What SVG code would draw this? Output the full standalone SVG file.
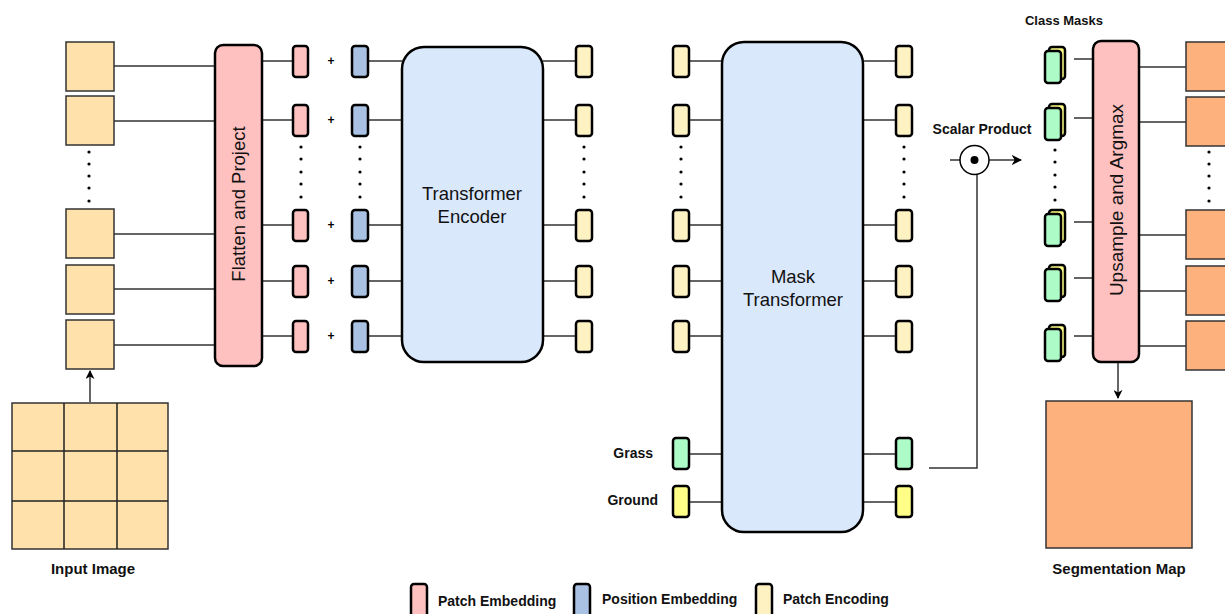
<svg xmlns="http://www.w3.org/2000/svg" width="1225" height="614" viewBox="0 0 1225 614">
<defs>
<marker id="arr" viewBox="0 0 10 10" refX="9" refY="5" markerWidth="7" markerHeight="7" orient="auto"><path d="M0,0 L10,5 L0,10 L3,5 Z" fill="#000"/></marker>
<marker id="arr2" viewBox="0 0 10 10" refX="9" refY="5" markerWidth="6" markerHeight="6" orient="auto"><path d="M0,0 L10,5 L0,10 L3,5 Z" fill="#000"/></marker>
<style>
.ln{stroke:#333;stroke-width:1.5;fill:none}
.big{stroke:#000;stroke-width:2.5}
.tok{stroke:#000;stroke-width:2.5}
.pe{fill:#ffc0c0}
.pos{fill:#a9c1e2}
.enc{fill:#fff2c2}
.patch{fill:#ffe1ab;stroke:#333;stroke-width:1.5}
.org{fill:#fdb27d;stroke:#333;stroke-width:1.5}
.t{font-family:"Liberation Sans",Arial,sans-serif;fill:#111}
.b{font-family:"Liberation Sans",Arial,sans-serif;font-weight:bold;fill:#111}
.dot{fill:#000}
</style>
</defs>
<rect width="1225" height="614" fill="#fff"/>

<g id="connectors">
<path class="ln" d="M114,66H215M114,121H215M114,234H215M114,289H215M114,345H215"/>
<path class="ln" d="M262,61H293M262,120H293M262,225H293M262,281H293M262,336H293"/>
<path class="ln" d="M368,61H402M368,120H402M368,225H402M368,281H402M368,336H402"/>
<path class="ln" d="M543,61H576M543,120H576M543,225H576M543,281H576M543,336H576"/>
<path class="ln" d="M689,61H722M689,120H722M689,225H722M689,281H722M689,336H722M689,454H722M689,502H722"/>
<path class="ln" d="M863,61H896M863,120H896M863,225H896M863,281H896M863,336H896M863,454H896M863,502H896"/>
<path class="ln" d="M929,468H977V174"/>
<path class="ln" d="M950,160H960"/>
<path class="ln" d="M989,160H1021" marker-end="url(#arr)"/>
<path class="ln" d="M1074,59H1093M1074,118H1093M1074,222H1093M1074,278H1093M1074,336H1093"/>
<path class="ln" d="M1139,67H1186M1139,122H1186M1139,235H1186M1139,291H1186M1139,346H1186"/>
<path class="ln" d="M90,402V371" marker-end="url(#arr2)" stroke-width="2"/>
<path class="ln" d="M1118,362V398" marker-end="url(#arr2)" stroke-width="2"/>
</g>

<g id="input-image">
<rect x="12" y="403" width="156" height="146" fill="#ffe1ab" stroke="#333" stroke-width="1.5"/>
<path d="M64,403V549M117,403V549M12,451H168M12,501H168" stroke="#222" stroke-width="1.5"/>
<text class="b" x="93" y="574" font-size="15" text-anchor="middle">Input Image</text>
</g>

<g id="patches">
<rect class="patch" x="66" y="42" width="48" height="49"/>
<rect class="patch" x="66" y="96" width="48" height="49"/>
<rect class="patch" x="66" y="209" width="48" height="49"/>
<rect class="patch" x="66" y="265" width="48" height="49"/>
<rect class="patch" x="66" y="320" width="48" height="49"/>
<g class="dot"><circle cx="89" cy="152" r="1.6"/><circle cx="89" cy="164" r="1.6"/><circle cx="89" cy="176" r="1.6"/><circle cx="89" cy="188" r="1.6"/><circle cx="89" cy="201" r="1.6"/></g>
</g>

<g id="flatten">
<rect class="big pe" x="215" y="45" width="47" height="321" rx="8"/>
<text class="t" x="0" y="0" font-size="18.5" text-anchor="middle" transform="translate(245,204) rotate(-90)">Flatten and Project</text>
</g>

<g id="patch-embeddings">
<rect class="tok pe" x="293" y="46" width="15" height="31" rx="3"/>
<rect class="tok pe" x="293" y="105" width="15" height="31" rx="3"/>
<rect class="tok pe" x="293" y="210" width="15" height="31" rx="3"/>
<rect class="tok pe" x="293" y="266" width="15" height="31" rx="3"/>
<rect class="tok pe" x="293" y="321" width="15" height="31" rx="3"/>
<g class="dot"><circle cx="301" cy="147" r="1.6"/><circle cx="301" cy="159" r="1.6"/><circle cx="301" cy="172" r="1.6"/><circle cx="301" cy="184" r="1.6"/><circle cx="301" cy="197" r="1.6"/></g>
</g>

<g id="plus" class="b" font-size="12" text-anchor="middle" style="fill:#000">
<text x="331" y="65">+</text><text x="331" y="124">+</text><text x="331" y="229">+</text><text x="331" y="285">+</text><text x="331" y="340">+</text>
</g>

<g id="position-embeddings">
<rect class="tok pos" x="352" y="46" width="16" height="31" rx="3"/>
<rect class="tok pos" x="352" y="105" width="16" height="31" rx="3"/>
<rect class="tok pos" x="352" y="210" width="16" height="31" rx="3"/>
<rect class="tok pos" x="352" y="266" width="16" height="31" rx="3"/>
<rect class="tok pos" x="352" y="321" width="16" height="31" rx="3"/>
<g class="dot"><circle cx="360" cy="147" r="1.6"/><circle cx="360" cy="159" r="1.6"/><circle cx="360" cy="172" r="1.6"/><circle cx="360" cy="184" r="1.6"/><circle cx="360" cy="197" r="1.6"/></g>
</g>

<g id="transformer-encoder">
<rect class="big" fill="#dae8fc" x="402" y="47" width="141" height="315" rx="22"/>
<text class="t" x="472" y="200" font-size="18.5" text-anchor="middle">Transformer</text>
<text class="t" x="472" y="223" font-size="18.5" text-anchor="middle">Encoder</text>
</g>

<g id="encoder-outputs">
<rect class="tok enc" x="576" y="46" width="16" height="31" rx="3"/>
<rect class="tok enc" x="576" y="105" width="16" height="31" rx="3"/>
<rect class="tok enc" x="576" y="210" width="16" height="31" rx="3"/>
<rect class="tok enc" x="576" y="266" width="16" height="31" rx="3"/>
<rect class="tok enc" x="576" y="321" width="16" height="31" rx="3"/>
<g class="dot"><circle cx="584" cy="147" r="1.6"/><circle cx="584" cy="159" r="1.6"/><circle cx="584" cy="172" r="1.6"/><circle cx="584" cy="184" r="1.6"/><circle cx="584" cy="197" r="1.6"/></g>
</g>

<g id="mask-inputs">
<rect class="tok enc" x="673" y="46" width="16" height="31" rx="3"/>
<rect class="tok enc" x="673" y="105" width="16" height="31" rx="3"/>
<rect class="tok enc" x="673" y="210" width="16" height="31" rx="3"/>
<rect class="tok enc" x="673" y="266" width="16" height="31" rx="3"/>
<rect class="tok enc" x="673" y="321" width="16" height="31" rx="3"/>
<g class="dot"><circle cx="681" cy="147" r="1.6"/><circle cx="681" cy="159" r="1.6"/><circle cx="681" cy="172" r="1.6"/><circle cx="681" cy="184" r="1.6"/><circle cx="681" cy="197" r="1.6"/></g>
<rect class="tok" fill="#adfcc8" x="673" y="438" width="16" height="31" rx="3"/>
<rect class="tok" fill="#ffff88" x="673" y="486" width="16" height="31" rx="3"/>
<text class="b" x="653" y="458" font-size="14" text-anchor="end">Grass</text>
<text class="b" x="658" y="505" font-size="14" text-anchor="end">Ground</text>
</g>

<g id="mask-transformer">
<rect class="big" fill="#dae8fc" x="722" y="42" width="141" height="490" rx="22"/>
<text class="t" x="793" y="283" font-size="18.5" text-anchor="middle">Mask</text>
<text class="t" x="793" y="306" font-size="18.5" text-anchor="middle">Transformer</text>
</g>

<g id="mask-outputs">
<rect class="tok enc" x="896" y="46" width="16" height="31" rx="3"/>
<rect class="tok enc" x="896" y="105" width="16" height="31" rx="3"/>
<rect class="tok enc" x="896" y="210" width="16" height="31" rx="3"/>
<rect class="tok enc" x="896" y="266" width="16" height="31" rx="3"/>
<rect class="tok enc" x="896" y="321" width="16" height="31" rx="3"/>
<g class="dot"><circle cx="904" cy="147" r="1.6"/><circle cx="904" cy="159" r="1.6"/><circle cx="904" cy="172" r="1.6"/><circle cx="904" cy="184" r="1.6"/><circle cx="904" cy="197" r="1.6"/></g>
<rect class="tok" fill="#adfcc8" x="896" y="438" width="16" height="31" rx="3"/>
<rect class="tok" fill="#ffff88" x="896" y="486" width="16" height="31" rx="3"/>
</g>

<g id="scalar-product">
<circle cx="974.5" cy="160" r="14.5" fill="#fff" stroke="#000" stroke-width="1.5"/>
<circle cx="974.5" cy="160" r="4" fill="#000"/>
<text class="b" x="982" y="134" font-size="14" text-anchor="middle">Scalar Product</text>
</g>

<g id="class-masks">
<text class="b" x="1064" y="25" font-size="13" text-anchor="middle">Class Masks</text>
<g>
<rect class="tok" fill="#ffff88" x="1049" y="47" width="16" height="32" rx="3" stroke-width="2"/>
<rect class="tok" fill="#adfcc8" x="1045" y="51" width="16" height="32" rx="3"/>
<rect class="tok" fill="#ffff88" x="1049" y="104" width="16" height="32" rx="3" stroke-width="2"/>
<rect class="tok" fill="#adfcc8" x="1045" y="108" width="16" height="32" rx="3"/>
<rect class="tok" fill="#ffff88" x="1049" y="210" width="16" height="32" rx="3" stroke-width="2"/>
<rect class="tok" fill="#adfcc8" x="1045" y="214" width="16" height="32" rx="3"/>
<rect class="tok" fill="#ffff88" x="1049" y="265" width="16" height="32" rx="3" stroke-width="2"/>
<rect class="tok" fill="#adfcc8" x="1045" y="269" width="16" height="32" rx="3"/>
<rect class="tok" fill="#ffff88" x="1049" y="325" width="16" height="32" rx="3" stroke-width="2"/>
<rect class="tok" fill="#adfcc8" x="1045" y="329" width="16" height="32" rx="3"/>
</g>
<g class="dot"><circle cx="1055" cy="150" r="1.6"/><circle cx="1055" cy="162" r="1.6"/><circle cx="1055" cy="175" r="1.6"/><circle cx="1055" cy="187" r="1.6"/><circle cx="1055" cy="200" r="1.6"/></g>
</g>

<g id="upsample">
<rect class="big pe" x="1093" y="41" width="46" height="321" rx="8"/>
<text class="t" x="0" y="0" font-size="19" text-anchor="middle" transform="translate(1123,200) rotate(-90)">Upsample and Argmax</text>
</g>

<g id="output-patches">
<rect class="org" x="1186" y="42" width="48" height="49"/>
<rect class="org" x="1186" y="97" width="48" height="49"/>
<rect class="org" x="1186" y="210" width="48" height="49"/>
<rect class="org" x="1186" y="266" width="48" height="49"/>
<rect class="org" x="1186" y="321" width="48" height="49"/>
<g class="dot"><circle cx="1209" cy="152" r="1.6"/><circle cx="1209" cy="164" r="1.6"/><circle cx="1209" cy="176" r="1.6"/><circle cx="1209" cy="188" r="1.6"/><circle cx="1209" cy="201" r="1.6"/></g>
</g>

<g id="segmentation-map">
<rect class="org" x="1046" y="401" width="146" height="147"/>
<text class="b" x="1119" y="574" font-size="15" text-anchor="middle">Segmentation Map</text>
</g>

<g id="legend">
<rect class="tok pe" x="411" y="584" width="16" height="40" rx="3"/>
<text class="b" x="438" y="606" font-size="14">Patch Embedding</text>
<rect class="tok pos" x="574" y="584" width="16" height="40" rx="3"/>
<text class="b" x="602" y="604" font-size="14">Position Embedding</text>
<rect class="tok enc" x="756" y="584" width="16" height="40" rx="3"/>
<text class="b" x="783" y="604" font-size="14">Patch Encoding</text>
</g>
</svg>
